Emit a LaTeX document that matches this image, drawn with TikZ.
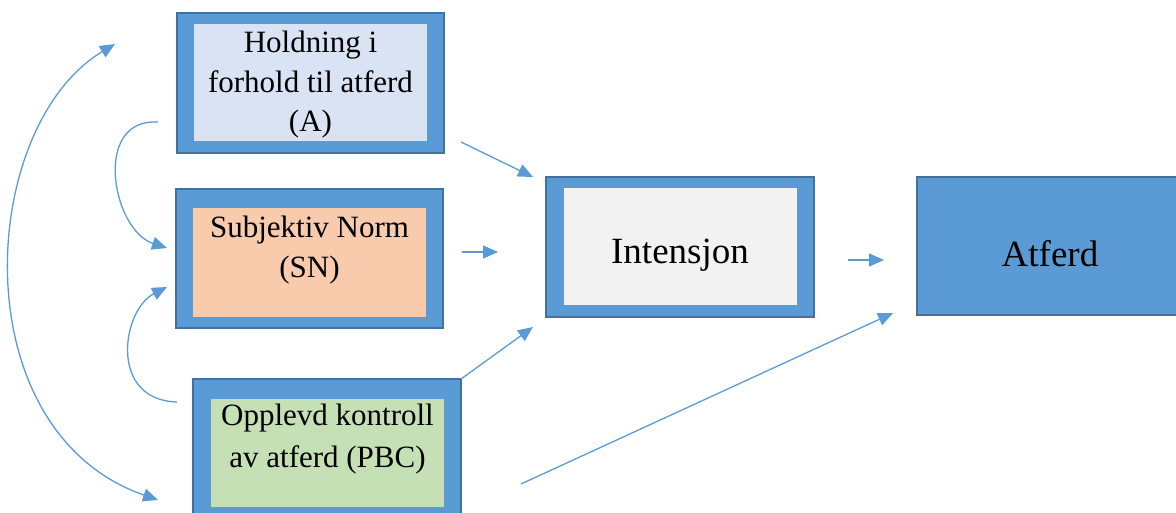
\documentclass[tikz,border=0pt]{standalone}
\usepackage{fontspec}
\setmainfont{Liberation Serif}
\newfontfamily\tnr{Liberation Serif}
\usetikzlibrary{arrows.meta}
\definecolor{boxblue}{HTML}{5B9BD5}
\definecolor{boxedge}{HTML}{41719C}
\definecolor{fillA}{HTML}{DAE3F3}
\definecolor{fillSN}{HTML}{F8CBAD}
\definecolor{fillPBC}{HTML}{C5E0B4}
\definecolor{fillInt}{HTML}{F2F2F2}
\tikzset{
  outerbox/.style={draw=boxedge, fill=boxblue, line width=1.5pt, inner sep=0pt, rectangle},
  innerbox/.style={fill=#1, draw=none, inner sep=0pt, rectangle},
  smalltxt/.style={font=\tnr\fontsize{31}{40}\selectfont, anchor=base, inner sep=0pt},
  bigtxt/.style={font=\tnr\fontsize{37}{44}\selectfont, anchor=base, inner sep=0pt},
  conn/.style={draw=boxblue, line width=1.3pt, -{Triangle[length=15pt,width=13pt]}},
  conn2/.style={draw=boxblue, line width=1.3pt, {Triangle[length=15pt,width=13pt]}-{Triangle[length=15pt,width=13pt]}},
}
\begin{document}
\begin{tikzpicture}[x=1pt,y=-1pt]
\useasboundingbox (0,0) rectangle (1176,513);
% Box A
\node (A) [outerbox, minimum width=267pt, minimum height=140pt] at (310.5,83) {};
\node (Ain) [innerbox=fillA, minimum width=233pt, minimum height=117pt] at (310.5,82.5) {};
\node (tA1) [smalltxt] at (310.5,53) {Holdning i};
\node (tA2) [smalltxt] at (310.5,93) {forhold til atferd};
\node (tA3) [smalltxt] at (310.5,132) {(A)};
% Box SN
\node (SN) [outerbox, minimum width=267pt, minimum height=139pt] at (309.5,258.5) {};
\node (SNin) [innerbox=fillSN, minimum width=233pt, minimum height=109pt] at (309.5,262.5) {};
\node (tSN1) [smalltxt] at (309.5,238) {Subjektiv Norm};
\node (tSN2) [smalltxt] at (309.5,278) {(SN)};
% Box PBC
\node (PBC) [outerbox, minimum width=268pt, minimum height=139pt] at (327,448.5) {};
\node (PBCin) [innerbox=fillPBC, minimum width=233pt, minimum height=108pt] at (327.5,453) {};
\node (tP1) [smalltxt] at (327.5,425) {Opplevd kontroll};
\node (tP2) [smalltxt] at (327.5,467) {av atferd (PBC)};
% Intensjon
\node (I) [outerbox, minimum width=268pt, minimum height=140pt] at (680,247) {};
\node (Iin) [innerbox=fillInt, minimum width=233pt, minimum height=117pt] at (680.5,246.5) {};
\node (tI) [bigtxt] at (680,264) {Intensjon};
% Atferd
\node (B) [outerbox, minimum width=268pt, minimum height=138pt] at (1051,246) {};
\node (tB) [bigtxt] at (1050,267) {Atferd};
% connector end points
\coordinate (a1) at (461,142); \coordinate (a2) at (533,177);
\coordinate (b1) at (462,252); \coordinate (b2) at (498,252);
\coordinate (c1) at (461,379); \coordinate (c2) at (533,327);
\coordinate (d1) at (848,260); \coordinate (d2) at (884,260);
\coordinate (e1) at (521,484); \coordinate (e2) at (893,313);
\coordinate (f1) at (115,44); \coordinate (f2) at (158,500);
\coordinate (g1) at (158,122); \coordinate (g2) at (167,248);
\coordinate (h1) at (177,402); \coordinate (h2) at (167,287);
\draw[conn] (a1) -- (a2);
\draw[conn] (b1) -- (b2);
\draw[conn] (c1) -- (c2);
\draw[conn] (d1) -- (d2);
\draw[conn] (e1) -- (e2);
\draw[conn2] (f1) .. controls (-22.5,126.5) and (-39.5,431) .. (f2);
\draw[conn] (g1) .. controls (92,118) and (112,230) .. (g2);
\draw[conn] (h1) .. controls (108,400) and (122,310) .. (h2);
\end{tikzpicture}
\end{document}
